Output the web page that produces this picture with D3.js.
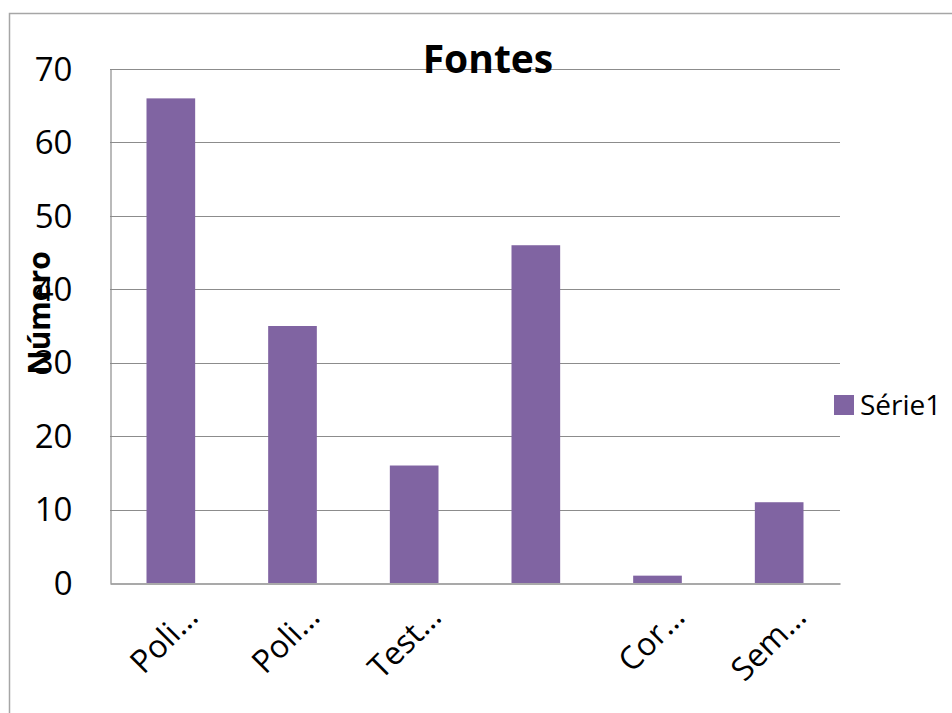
<!DOCTYPE html>
<html>
<head>
<meta charset="utf-8">
<script src="https://cdn.jsdelivr.net/npm/d3@7"></script>
<style>
  html, body { margin: 0; padding: 0; background: #fff; }
  svg { display: block; }
  text { font-family: "Open Sans", "Noto Sans", sans-serif; fill: #000; }
</style>
</head>
<body>
<svg id="chart" width="952" height="713"></svg>
<script>
// Source counts per category
const categories = ["Poli…", "Poli…", "Test…", "", "Cor…", "Sem…"];
const values = [66, 35, 16, 46, 1, 11];
const yTicks = [0, 10, 20, 30, 40, 50, 60, 70];
const seriesName = "Série1";
const chartTitle = "Fontes";
const yTitle = "Número";

const plot = { left: 110, right: 840, top: 69, bottom: 583 };
const barColor = "#8064A2";
const gridColor = "#8c8c8c";

const svg = d3.select("#chart");

// Outer chart frame (runs past the right and bottom edges)
svg.append("rect")
  .attr("x", 9.5).attr("y", 13.5)
  .attr("width", 1200).attr("height", 1000)
  .attr("fill", "none")
  .attr("stroke", "#a6a6a6")
  .attr("stroke-width", 1.5);

const x = d3.scaleBand()
  .domain(d3.range(categories.length))
  .range([plot.left, plot.right])
  .paddingInner(0.6)
  .paddingOuter(0.3);

const y = d3.scaleLinear()
  .domain([0, 70])
  .range([plot.bottom, plot.top]);

// Horizontal gridlines
svg.append("g")
  .selectAll("line")
  .data(yTicks.filter(t => t > 0))
  .join("line")
  .attr("x1", plot.left).attr("x2", plot.right)
  .attr("y1", d => Math.round(y(d)) + 0.5)
  .attr("y2", d => Math.round(y(d)) + 0.5)
  .attr("stroke", gridColor)
  .attr("stroke-width", 1);

// Bars
svg.append("g")
  .selectAll("rect")
  .data(values)
  .join("rect")
  .attr("x", (d, i) => x(i))
  .attr("width", x.bandwidth())
  .attr("y", d => y(d))
  .attr("height", d => y(0) - y(d))
  .attr("fill", barColor);

// Y axis
const yAxis = d3.axisLeft(y).tickValues(yTicks).tickSize(0).tickPadding(38);
const gy = svg.append("g")
  .attr("transform", `translate(${plot.left + 0.5},0)`)
  .call(yAxis);
gy.select(".domain").attr("stroke", gridColor).attr("stroke-width", 1.2);
gy.selectAll("text")
  .attr("font-size", 33)
  .attr("fill", "#000")
  .attr("dy", "0.34em");

// X axis line
const xAxis = d3.axisBottom(x).tickSize(0).tickFormat(() => "");
const gx = svg.append("g")
  .attr("transform", `translate(0,${plot.bottom + 0.5})`)
  .call(xAxis);
gx.select(".domain").attr("stroke", gridColor).attr("stroke-width", 1.5);

// Rotated category labels
svg.append("g")
  .selectAll("text")
  .data(categories)
  .join("text")
  .attr("transform", (d, i) => `translate(${x(i) + x.bandwidth() / 2 + 29},${plot.bottom + 36}) rotate(-45)`)
  .attr("text-anchor", "end")
  .attr("font-size", 32)
  .text(d => d);

// Title
svg.append("text")
  .attr("x", 488).attr("y", 73)
  .attr("text-anchor", "middle")
  .attr("font-size", 39)
  .attr("font-weight", "bold")
  .text(chartTitle);

// Y axis title
svg.append("text")
  .attr("transform", "translate(50,313) rotate(-90)")
  .attr("text-anchor", "middle")
  .attr("font-size", 30)
  .attr("font-weight", "bold")
  .text(yTitle);

// Legend
const legend = svg.append("g").attr("transform", "translate(834,395)");
legend.append("rect")
  .attr("width", 20).attr("height", 20)
  .attr("fill", barColor);
legend.append("text")
  .attr("x", 26).attr("y", 10)
  .attr("dy", "0.36em")
  .attr("font-size", 28)
  .text(seriesName);
</script>
</body>
</html>
